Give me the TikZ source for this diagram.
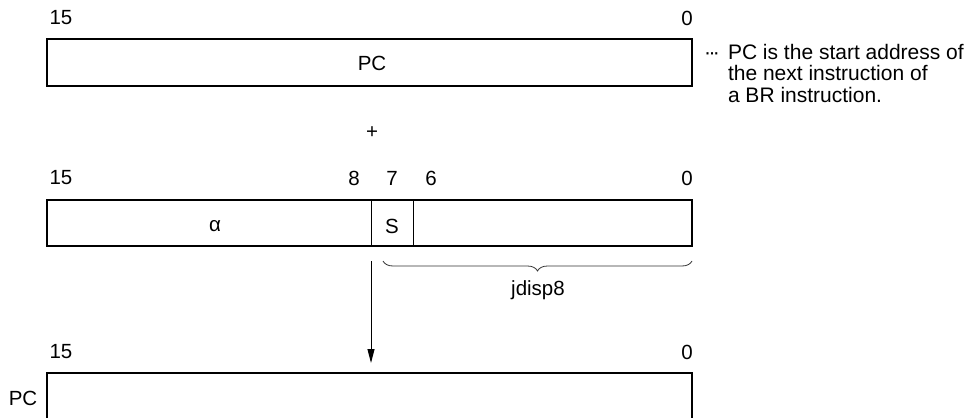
\documentclass[tikz,border=0pt]{standalone}
\usepackage{fontspec}
\setmainfont{Liberation Sans}
\usetikzlibrary{arrows.meta,decorations.pathreplacing}
\begin{document}
\begin{tikzpicture}[x=1pt,y=-1pt,
  every node/.style={font=\fontsize{20.5}{22}\selectfont, inner sep=0pt, outer sep=0pt},
  regbox/.style={draw, line width=2pt, minimum width=645pt, anchor=north west},
  divider/.style={line width=1pt},
  flow/.style={line width=1pt, -{Triangle[length=14pt,width=7pt]}},
  bracestyle/.style={line width=0.8pt, draw=black!80, decorate,
    decoration={brace, mirror, amplitude=10pt}},
  notetext/.style={anchor=base west, font=\fontsize{21}{22}\selectfont},
  lbl/.style={anchor=center}]
\useasboundingbox (0,0) rectangle (970,418);

% --- first register: PC
\node[lbl] (b15a) at (61,18) {15};
\node[lbl] (b0a) at (687,18) {0};
\node[regbox, minimum height=47pt] (pc1) at (47,39) {};
\node[lbl] (pctxt) at (372,63) {PC};

% note
\node[notetext] (dots) at (704,59) {·\kern-2.5pt·\kern-2.5pt·};
\node[notetext] (note1) at (728,59) {PC is the start address of};
\node[notetext] (note2) at (728,80.5) {the next instruction of};
\node[notetext] (note3) at (728,102) {a BR instruction.};

% plus
\node[lbl] (plus) at (372,133) {+};

% --- second register: displacement
\node[lbl] (b15b) at (61,178) {15};
\node[lbl] (b8b) at (354,178) {8};
\node[lbl] (b7b) at (392,178) {7};
\node[lbl] (b6b) at (431,178) {6};
\node[lbl] (b0b) at (687,178) {0};
\node[regbox, minimum height=46pt] (disp) at (47,200) {};
\draw[divider] (371,200) -- (371,246);
\draw[divider] (413,200) -- (413,246);
\node[lbl] (alpha) at (215,226) {α};
\node[lbl] (sign) at (392,226) {S};

% brace
\coordinate (brL) at (383,261);
\coordinate (brR) at (692,261);
\draw[bracestyle] (brL) -- (brR);
\node[lbl] (jdisp) at (538,290) {jdisp8};

% arrow
\coordinate (src) at (371,261);
\coordinate (dst) at (371,363);
\draw[flow] (src) -- (dst);

% --- result register
\node[lbl] (b15c) at (61,352) {15};
\node[lbl] (b0c) at (687,352) {0};
\node[regbox, minimum height=60pt] (pc2) at (47,372.7) {};
\node[lbl] (pclbl) at (23,398) {PC};
\end{tikzpicture}
\end{document}
